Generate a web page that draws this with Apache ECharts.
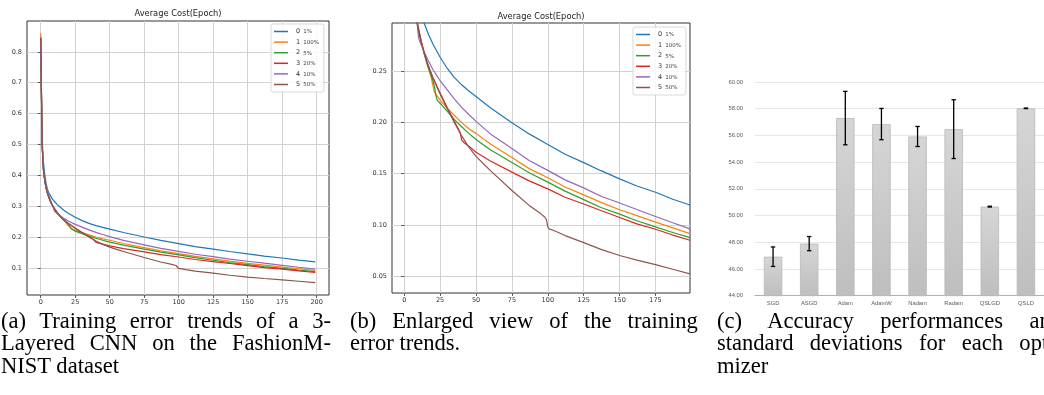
<!DOCTYPE html>
<html><head><meta charset="utf-8">
<script src="https://cdn.jsdelivr.net/npm/echarts@6/dist/echarts.min.js"></script>
<style>
html,body{margin:0;padding:0;background:#fff;width:1044px;height:395px;overflow:hidden;position:relative}
#c{position:absolute;left:0;top:0;width:1044px;height:395px}
.cap{position:absolute;font-family:'Liberation Serif','DejaVu Serif',serif;font-size:24px;line-height:22.5px;color:#000;white-space:nowrap;transform:scaleX(0.94);transform-origin:0 0}
.j{text-align:justify;text-align-last:justify;white-space:normal}
</style></head><body>
<div id="c"></div>
<div class="cap" style="left:1px;top:308.5px;width:351px">
  <div class="j">(a) Training error trends of a 3-</div>
  <div class="j">Layered CNN on the FashionM-</div>
  <div>NIST dataset</div>
</div>
<div class="cap" style="left:350px;top:308.5px;width:370px">
  <div class="j">(b) Enlarged view of the training</div>
  <div>error trends.</div>
</div>
<div class="cap" style="left:717px;top:308.5px;width:367px">
  <div class="j">(c) Accuracy performances and</div>
  <div class="j">standard deviations for each opti-</div>
  <div>mizer</div>
</div>
<script>
// ---------- data ----------
const legendIds = ['0', '1', '2', '3', '4', '5'];
const legendPcts = ['1%', '100%', '5%', '20%', '10%', '50%'];

// [epoch, average cost]
const cost1pct = [[0,0.850],[1,0.520],[2,0.440],[3,0.400],[4,0.372],[5,0.352],[6,0.342],[7,0.334],[8,0.326],[10,0.315],[12,0.305],[14,0.297],[17,0.286],[20,0.277],[25,0.264],[30,0.253],[35,0.244],[40,0.237],[45,0.231],[50,0.2255],[60,0.2145],[75,0.200],[87,0.189],[100,0.1786],[112,0.169],[125,0.1609],[137,0.153],[150,0.145],[162,0.138],[175,0.1319],[187,0.125],[199,0.1194]];
const cost100pct = [[0,0.860],[1,0.500],[2,0.415],[3,0.380],[4,0.357],[5,0.340],[6,0.327],[7,0.316],[8,0.306],[9,0.298],[10,0.291],[12,0.278],[14,0.267],[16,0.257],[18,0.248],[19,0.243],[20,0.236],[21,0.230],[23,0.226],[25,0.222],[30,0.214],[35,0.207],[40,0.200],[45,0.194],[50,0.1895],[60,0.179],[75,0.1658],[87,0.155],[100,0.146],[112,0.137],[125,0.1293],[137,0.122],[150,0.1148],[162,0.109],[175,0.1026],[187,0.097],[199,0.0914]];
const cost5pct = [[0,0.845],[1,0.500],[2,0.415],[3,0.380],[4,0.357],[5,0.340],[6,0.327],[7,0.316],[8,0.306],[9,0.298],[10,0.291],[12,0.278],[14,0.267],[16,0.257],[18,0.249],[20,0.241],[21,0.236],[22,0.227],[23,0.222],[25,0.219],[30,0.211],[35,0.203],[40,0.196],[45,0.1895],[50,0.1835],[60,0.1735],[75,0.1609],[87,0.151],[100,0.1418],[112,0.133],[125,0.1247],[137,0.117],[150,0.1105],[162,0.104],[175,0.098],[187,0.0925],[199,0.0875]];
const cost20pct = [[0,0.845],[1,0.500],[2,0.415],[3,0.380],[4,0.357],[5,0.340],[6,0.327],[7,0.316],[8,0.306],[9,0.298],[10,0.292],[12,0.279],[14,0.268],[16,0.259],[18,0.251],[20,0.244],[25,0.229],[30,0.2145],[35,0.201],[38,0.193],[39,0.190],[40,0.183],[42,0.180],[45,0.177],[50,0.171],[60,0.1625],[75,0.1516],[87,0.143],[100,0.1352],[112,0.127],[125,0.1204],[137,0.114],[150,0.1072],[162,0.101],[175,0.0957],[187,0.090],[199,0.0849]];
const cost10pct = [[0,0.840],[1,0.500],[2,0.420],[3,0.385],[4,0.362],[5,0.345],[6,0.332],[7,0.320],[8,0.309],[9,0.298],[10,0.283],[11,0.279],[13,0.272],[15,0.266],[17,0.260],[20,0.252],[25,0.241],[30,0.232],[35,0.223],[40,0.215],[45,0.208],[50,0.2012],[60,0.189],[75,0.1747],[87,0.163],[100,0.1533],[112,0.144],[125,0.1362],[137,0.128],[150,0.1214],[162,0.115],[175,0.1082],[187,0.102],[199,0.096]];
const cost50pct = [[0,0.845],[1,0.500],[2,0.415],[3,0.380],[4,0.357],[5,0.340],[6,0.327],[7,0.316],[8,0.306],[9,0.297],[10,0.289],[12,0.278],[14,0.268],[16,0.259],[18,0.251],[20,0.244],[25,0.228],[30,0.2135],[35,0.200],[40,0.187],[45,0.176],[50,0.167],[55,0.160],[60,0.153],[75,0.1336],[87,0.119],[95,0.111],[98,0.1075],[99,0.105],[100,0.098],[101,0.096],[105,0.094],[112,0.0895],[125,0.0826],[137,0.076],[150,0.070],[162,0.0655],[175,0.0611],[187,0.0565],[199,0.052]];
const costSeries = [cost1pct, cost100pct, cost5pct, cost20pct, cost10pct, cost50pct];

const ticksA_x = [0, 25, 50, 75, 100, 125, 150, 175, 200];
const ticksA_y = [0.1, 0.2, 0.3, 0.4, 0.5, 0.6, 0.7, 0.8];
const ticksB_x = [0, 25, 50, 75, 100, 125, 150, 175];
const ticksB_y = [0.05, 0.10, 0.15, 0.20, 0.25];

const optimizers = ['SGD', 'ASGD', 'Adam', 'AdamW', 'Nadam', 'Radam', 'QSLGD', 'QSLD'];
const accuracy = [46.92, 47.90, 57.30, 56.85, 55.92, 56.47, 50.67, 58.03];
const accuracyStd = [0.73, 0.53, 2.00, 1.17, 0.75, 2.20, 0.03, 0.02];

// ---------- styling ----------
const lineColors = ['#1f77b4', '#ff7f0e', '#2ca02c', '#d62728', '#9467bd', '#8c564b'];
const seriesNames = legendIds.map((id, i) => id + ' ' + legendPcts[i]);
const tickFont = { fontSize: 6.5, color: '#333', fontFamily: 'DejaVu Sans' };

function lineAxes(gi, xmin, xmax, xt, ymin, ymax, yt, ydec) {
  const xa = {
    type: 'value', gridIndex: gi, min: xmin, max: xmax,
    axisLine: { show: false },
    axisTick: { show: true, customValues: xt, length: 3, lineStyle: { color: '#333', width: 0.8 } },
    axisLabel: Object.assign({ customValues: xt, margin: 4, formatter: v => String(v) }, tickFont),
    splitLine: { show: true, lineStyle: { color: '#d2d2d2', width: 1 } }
  };
  const ya = {
    type: 'value', gridIndex: gi, min: ymin, max: ymax,
    axisLine: { show: false },
    axisTick: { show: true, customValues: yt, length: 3, lineStyle: { color: '#333', width: 0.8 } },
    axisLabel: Object.assign({ customValues: yt, margin: 5, formatter: v => v.toFixed(ydec) }, tickFont),
    splitLine: { show: true, lineStyle: { color: '#d2d2d2', width: 1 } }
  };
  return [xa, ya];
}
const [xa0, ya0] = lineAxes(0, -9.95, 208.95, ticksA_x, 0.012, 0.9, ticksA_y, 1);
const [xa1, ya1] = lineAxes(1, -8.5, 199, ticksB_x, 0.0333, 0.2975, ticksB_y, 2);

const series = [];
[0, 1].forEach(gi => {
  costSeries.forEach((d, i) => {
    series.push({
      type: 'line', name: seriesNames[i], xAxisIndex: gi, yAxisIndex: gi,
      data: d, symbol: 'none', showSymbol: false, clip: true,
      lineStyle: { color: lineColors[i], width: 1.2 }, itemStyle: { color: lineColors[i] },
      emphasis: { disabled: true }, z: 3
    });
  });
});

series.push({
  type: 'bar', name: 'acc', xAxisIndex: 2, yAxisIndex: 2, data: accuracy, barWidth: '51%',
  itemStyle: {
    color: new echarts.graphic.LinearGradient(0, 0, 0, 1, [
      { offset: 0, color: '#d6d6d6' }, { offset: 1, color: '#bebebe' }
    ]),
    borderColor: '#b8b8b8', borderWidth: 0.8
  },
  emphasis: { disabled: true }
});
series.push({
  type: 'custom', name: 'err', xAxisIndex: 2, yAxisIndex: 2,
  data: accuracy.map((v, i) => [i, v - accuracyStd[i], v + accuracyStd[i]]),
  encode: { x: 0, y: [1, 2] },
  renderItem: (params, api) => {
    const i = api.value(0);
    const lo = api.coord([i, api.value(1)]);
    const hi = api.coord([i, api.value(2)]);
    const hw = 2.2;
    const st = { stroke: '#000', lineWidth: 1.3 };
    return {
      type: 'group', children: [
        { type: 'line', shape: { x1: hi[0], y1: hi[1], x2: lo[0], y2: lo[1] }, style: st },
        { type: 'line', shape: { x1: hi[0] - hw, y1: hi[1], x2: hi[0] + hw, y2: hi[1] }, style: st },
        { type: 'line', shape: { x1: lo[0] - hw, y1: lo[1], x2: lo[0] + hw, y2: lo[1] }, style: st }
      ]
    };
  },
  z: 5
});

function legendAt(left, top) {
  return {
    data: seriesNames, orient: 'vertical', left: left, top: top,
    icon: 'rect', itemWidth: 14, itemHeight: 1.5, itemGap: 2.6,
    padding: [3.5, 5, 3.5, 3], borderColor: '#cfcfcf', borderWidth: 0.8, borderRadius: 2,
    backgroundColor: 'rgba(255,255,255,0.85)', selectedMode: false,
    formatter: name => {
      const p = name.split(' ');
      return '{n|' + p[0] + '}{p|' + p[1] + '}';
    },
    textStyle: {
      lineHeight: 8,
      rich: {
        n: { fontSize: 6.5, fontFamily: 'DejaVu Sans', color: '#333', lineHeight: 8, padding: [0, 3, 0, 3] },
        p: { fontSize: 5.5, fontFamily: 'DejaVu Sans', color: '#444', lineHeight: 8, padding: [1, 0, 0, 0] }
      }
    }
  };
}

const option = {
  animation: false,
  grid: [
    { left: 27, top: 21, width: 302, height: 274, show: true, borderColor: '#333', borderWidth: 1, backgroundColor: 'transparent' },
    { left: 392, top: 23, width: 298, height: 270, show: true, borderColor: '#333', borderWidth: 1, backgroundColor: 'transparent' },
    { left: 755, top: 82, width: 293, height: 213.7 }
  ],
  xAxis: [xa0, xa1, {
    type: 'category', gridIndex: 2, data: optimizers,
    axisLine: { show: true, lineStyle: { color: '#b0b0b0', width: 1 } },
    axisTick: { show: false },
    axisLabel: { fontSize: 5.8, color: '#595959', fontFamily: 'Liberation Sans', margin: 5 },
    splitLine: { show: false }
  }],
  yAxis: [ya0, ya1, {
    type: 'value', gridIndex: 2, min: 44, max: 60, interval: 2,
    axisLine: { show: false }, axisTick: { show: false },
    axisLabel: { fontSize: 5.8, color: '#595959', fontFamily: 'Liberation Sans', margin: 12, formatter: v => v.toFixed(2) },
    splitLine: { show: true, lineStyle: { color: '#e6e6e6', width: 1 } }
  }],
  legend: [legendAt(271, 24), legendAt(633, 27)],
  graphic: [
    { type: 'text', x: 178, y: 14, style: { text: 'Average Cost(Epoch)', fontSize: 8.3, fontFamily: 'DejaVu Sans', fill: '#222', align: 'center', verticalAlign: 'middle' } },
    { type: 'text', x: 541, y: 16.5, style: { text: 'Average Cost(Epoch)', fontSize: 8.3, fontFamily: 'DejaVu Sans', fill: '#222', align: 'center', verticalAlign: 'middle' } }
  ],
  series: series
};
const chart = echarts.init(document.getElementById('c'), null, { renderer: 'canvas' });
chart.setOption(option);
</script>
</body></html>
